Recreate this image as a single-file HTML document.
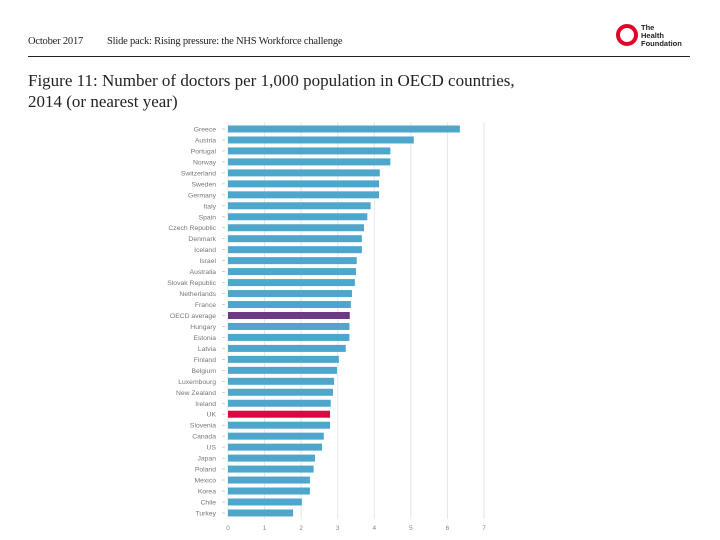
<!DOCTYPE html>
<html><head><meta charset="utf-8"><style>
body{margin:0;width:720px;height:540px;background:#fff;position:relative;overflow:hidden;font-family:"Liberation Serif",serif;}
.hdr{position:absolute;top:36px;font-size:10.5px;color:#222;letter-spacing:-0.2px}
#title{position:absolute;left:28px;top:70px;font-size:17px;line-height:21px;color:#222;margin:0;font-weight:normal}
</style></head><body>
<div class="hdr" style="left:28px">October 2017</div>
<div class="hdr" style="left:107px">Slide pack: Rising pressure: the NHS Workforce challenge</div>
<div style="position:absolute;left:28px;top:56px;width:662px;height:1px;background:#222"></div>
<div style="position:absolute;left:616px;top:24px;width:22px;height:22px;">
<div style="width:14px;height:14px;border:4px solid #e4002b;border-radius:50%"></div></div>
<div style="position:absolute;left:641px;top:24px;font-family:'Liberation Sans',sans-serif;font-weight:bold;font-size:7.5px;line-height:8px;color:#222">The<br>Health<br>Foundation</div>
<h1 id="title">Figure 11: Number of doctors per 1,000 population in OECD countries,<br>2014 (or nearest year)</h1>
<svg id="chart" width="720" height="540" style="position:absolute;left:0;top:0"></svg>
<script>
const categories=["Greece","Austria","Portugal","Norway","Switzerland","Sweden","Germany","Italy","Spain","Czech Republic","Denmark","Iceland","Israel","Australia","Slovak Republic","Netherlands","France","OECD average","Hungary","Estonia","Latvia","Finland","Belgium","Luxembourg","New Zealand","Ireland","UK","Slovenia","Canada","US","Japan","Poland","Mexico","Korea","Chile","Turkey"];
const values=[6.34,5.08,4.44,4.44,4.15,4.13,4.13,3.9,3.81,3.72,3.66,3.66,3.52,3.5,3.47,3.39,3.36,3.33,3.32,3.32,3.22,3.03,2.98,2.9,2.87,2.81,2.79,2.79,2.62,2.57,2.38,2.34,2.24,2.24,2.02,1.78];
const ticks=[0,1,2,3,4,5,6,7];
const NS="http://www.w3.org/2000/svg";
const svg=document.getElementById('chart');
const x0=228,x1=484,xmax=7,y0=129,step=10.97,bh=7;
const X=v=>x0+(x1-x0)*v/xmax;
const Y=i=>y0+i*step;
function mk(t,a){const e=document.createElementNS(NS,t);for(const k in a)e.setAttribute(k,a[k]);svg.appendChild(e);return e;}
ticks.forEach(t=>{
 const g=mk('line',{x1:X(t),x2:X(t),y1:122,y2:519,stroke:'#e6e6e6','stroke-width':1});
 
 
 const l=mk('text',{x:X(t),y:530,'text-anchor':'middle','font-size':6.5,fill:'#888','font-family':'Liberation Sans, sans-serif'});
 l.textContent=t;
 
 
});
categories.forEach((c,i)=>{
 const col=c==='UK'?'#dd0542':(c==='OECD average'?'#6c3a85':'#4fa6cc');
 const r=mk('rect',{x:x0,y:Y(i)-bh/2,width:X(values[i])-x0,height:bh,fill:col});
 
 
 mk('line',{x1:222,x2:225,y1:Y(i),y2:Y(i),stroke:'#bbb','stroke-width':0.7});
 const t=mk('text',{x:216,y:Y(i)+2.5,'text-anchor':'end','font-size':6.8,fill:'#777','font-family':'Liberation Sans, sans-serif'});
 t.textContent=c;
 
 
});
</script>
</body></html>
